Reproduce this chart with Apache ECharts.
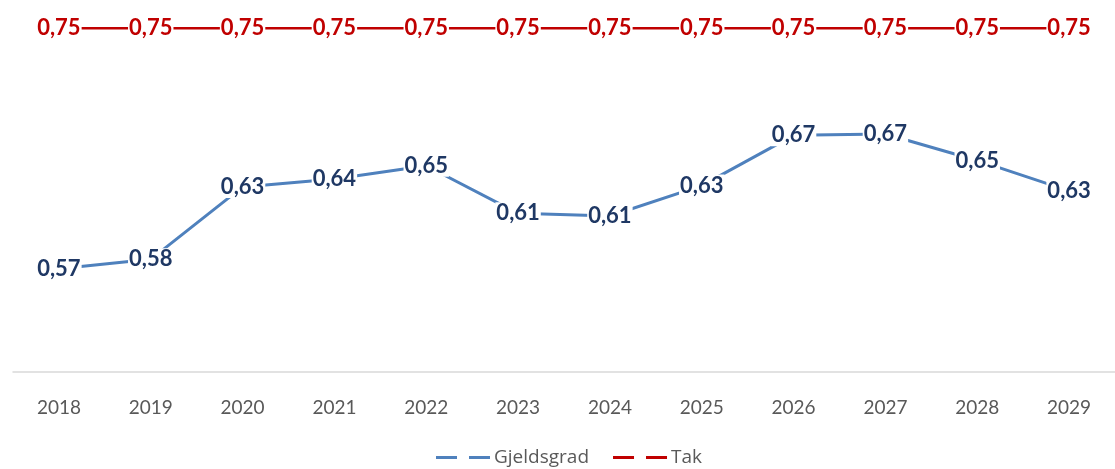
<!DOCTYPE html>
<html>
<head>
<meta charset="utf-8">
<script src="https://cdn.jsdelivr.net/npm/echarts@6/dist/echarts.min.js"></script>
<style>
  html, body { margin: 0; padding: 0; background: #fff; }
  #chart { width: 1115px; height: 469px; }
</style>
</head>
<body>
<div id="chart"></div>
<script>
// data
const years = ['2018', '2019', '2020', '2021', '2022', '2023', '2024', '2025', '2026', '2027', '2028', '2029'];
const gjeldsgrad = [0.568, 0.5752, 0.63, 0.636, 0.646, 0.61, 0.608, 0.631, 0.669, 0.67, 0.65, 0.627];
const tak = [0.75, 0.75, 0.75, 0.75, 0.75, 0.75, 0.75, 0.75, 0.75, 0.75, 0.75, 0.75];

const fmt = p => p.value.toFixed(2).replace('.', ',');

const chart = echarts.init(document.getElementById('chart'));

const labelStyle = color => ({
  show: true,
  position: 'inside',
  formatter: fmt,
  color: color,
  fontFamily: 'Lato',
  fontWeight: 'bold',
  fontSize: 22,
  backgroundColor: '#fff',
  padding: [0, 1]
});

const dashIcon = 'path://M0,0h21v3h-21z M33,0h21v3h-21z';

chart.setOption({
  animation: false,
  grid: { left: 13, top: 15, width: 1118, height: 357 },
  legend: {
    top: 448,
    left: 436,
    padding: 0,
    itemGap: 24,
    itemWidth: 54,
    itemHeight: 3,
    textStyle: { color: '#595959', fontFamily: 'Open Sans', fontSize: 19, padding: [0, 0, 0, -1] },
    data: [
      { name: 'Gjeldsgrad', icon: dashIcon },
      { name: 'Tak', icon: dashIcon }
    ]
  },
  xAxis: {
    type: 'category',
    data: years,
    axisLine: { lineStyle: { color: '#d9d9d9', width: 1.5 } },
    axisTick: { show: false },
    axisLabel: { color: '#595959', fontFamily: 'Lato', fontSize: 19, margin: 26 }
  },
  yAxis: {
    type: 'value',
    min: 0.49,
    max: 0.76,
    show: false,
    splitLine: { show: false }
  },
  series: [
    {
      name: 'Gjeldsgrad',
      type: 'line',
      data: gjeldsgrad,
      color: '#4f81bd',
      symbol: 'circle',
      symbolSize: 2,
      showSymbol: true,
      itemStyle: { color: '#4f81bd' },
      lineStyle: { width: 3, color: '#4f81bd' },
      label: labelStyle('#1f3864'),
      z: 3
    },
    {
      name: 'Tak',
      type: 'line',
      data: tak,
      color: '#c00000',
      symbol: 'circle',
      symbolSize: 2,
      showSymbol: true,
      clip: false,
      itemStyle: { color: '#c00000' },
      lineStyle: { width: 2.5, color: '#c00000' },
      label: labelStyle('#c00000'),
      z: 2
    }
  ]
});
</script>
</body>
</html>
